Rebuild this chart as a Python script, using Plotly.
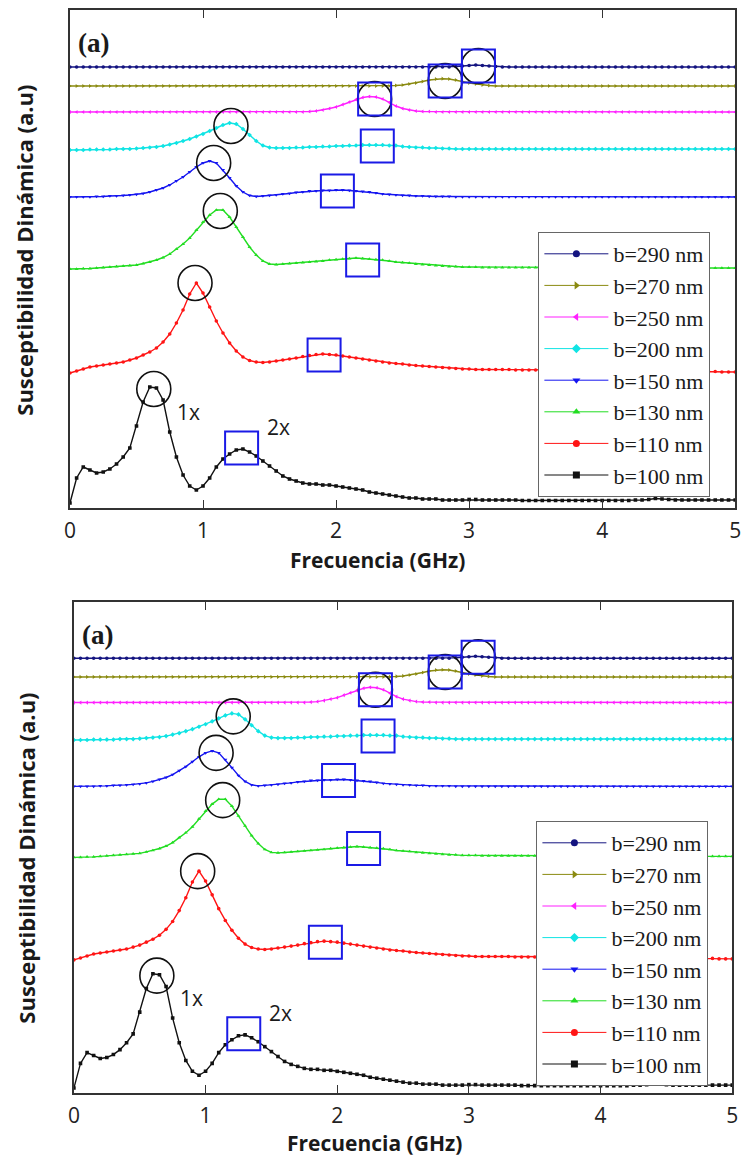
import plotly.graph_objects as go

# ---------------- data ----------------
FREQ_GHZ = [round(i * 0.05, 2) for i in range(101)]   # sampling grid 0..5 GHz

LABELS = ["b=290 nm", "b=270 nm", "b=250 nm", "b=200 nm",
          "b=150 nm", "b=130 nm", "b=110 nm", "b=100 nm"]

# dynamic susceptibility (a.u., curves offset vertically as in the figure)
CHI_290 = [441, 441, 441, 441, 441, 441, 441, 441, 441, 441,
           441, 441, 441, 441, 441, 441, 441, 441, 441, 441,
           441, 441, 441, 441, 441, 441, 441, 441, 441, 441,
           441, 441, 441, 441, 441, 441, 441, 441, 441, 441,
           441, 441, 441, 441, 441, 441, 441, 441, 441, 441,
           441, 441, 441, 441, 441, 441, 441, 441, 441.5, 442,
           442.5, 443, 442.5, 442, 441.5, 441, 441, 441, 441, 441,
           441, 441, 441, 441, 441, 441, 441, 441, 441, 441,
           441, 441, 441, 441, 441, 441, 441, 441, 441, 441,
           441, 441, 441, 441, 441, 441, 441, 441, 441, 441,
           441]
CHI_270 = [422, 422, 422, 422, 422, 422, 422, 422, 422, 422,
           422, 422, 422, 422, 422, 422, 422, 422, 422, 422,
           422, 422, 422, 422, 422, 422, 422, 422, 422, 422,
           422, 422, 422, 422, 422, 422, 422, 422, 422, 422,
           422, 422, 422, 422, 422, 422, 422, 422, 422, 422.5,
           423, 424, 425, 426.5, 428, 429, 429.3, 429, 428, 426.5,
           425, 424, 423, 422.5, 422, 422, 422, 422, 422, 422,
           422, 422, 422, 422, 422, 422, 422, 422, 422, 422,
           422, 422, 422, 422, 422, 422, 422, 422, 422, 422,
           422, 422, 422, 422, 422, 422, 422, 422, 422, 422,
           422]
CHI_250 = [396, 396, 396, 396, 396, 396, 396, 396, 396, 396,
           396, 396, 396, 396, 396, 396, 396, 396, 396, 396,
           396, 396, 396, 396, 396, 396, 396, 396, 396, 396,
           396, 396, 396, 396, 396, 396, 396.5, 397, 398, 399.5,
           401, 403.5, 406, 408.5, 410.5, 411.5, 411, 409, 405.5, 402,
           399.5, 398, 397, 396.5, 396.5, 396, 396, 396, 396, 396,
           396, 396, 396, 396, 396, 396, 396, 396, 396, 396,
           396, 396, 396, 396, 396, 396, 396, 396, 396, 396,
           396, 396, 396, 396, 396, 396, 396, 396, 396, 396,
           396, 396, 396, 396, 396, 396, 396, 396, 396, 396,
           396]
CHI_200 = [358, 358, 358, 358.5, 358.5, 358.5, 358.5, 359, 359, 359,
           359.5, 360, 360.5, 361, 362, 363.5, 365, 367, 369, 371.5,
           374, 377, 380, 383, 385, 384, 379, 373, 367, 362.5,
           360.5, 360, 360, 360, 360.5, 360.5, 361, 361, 361.5, 361.5,
           362, 362, 362.5, 362.5, 363, 363, 363, 363, 362.5, 362.5,
           361.5, 361, 360.5, 360.5, 360, 360, 359.5, 359.5, 359, 359,
           359, 359, 359, 359, 359, 359, 359, 359, 359, 359,
           359, 359, 359, 359, 359, 359, 359, 359, 359, 359,
           359, 359, 359, 359, 359, 359, 359, 359, 359, 359,
           359, 359, 359, 359, 359, 359, 359, 359, 359, 359,
           359]
CHI_150 = [311, 311, 311, 311, 311.5, 311.5, 312, 312, 312.5, 313,
           313.5, 314.5, 316, 318, 320, 323, 327, 331, 336, 341,
           345, 347, 345, 338, 330, 322, 316, 312.5, 311.5, 312,
           312.5, 313, 314, 314.5, 315.5, 316, 317, 317, 317.5, 317.5,
           318, 318, 317.5, 317, 316.5, 316, 315, 314, 313.5, 313,
           312.5, 312.5, 312, 312, 311.5, 311.5, 311.5, 311.5, 311, 311,
           311, 311, 311, 311, 311, 311, 311, 311, 311, 311,
           311, 311, 311, 311, 311, 311, 311, 311, 311, 311,
           311, 311, 311, 311, 311, 311, 311, 311, 311, 311,
           311, 311, 311, 311, 311, 311, 311, 311, 311, 311,
           311]
CHI_130 = [239, 239, 239.5, 239.5, 240, 240.5, 241, 241.5, 242, 242.5,
           243, 244.5, 246, 248, 250.5, 254, 259, 264, 270, 278,
           286, 293, 298, 298, 291, 281, 271, 261, 253, 247,
           244, 243.5, 244, 244.5, 245, 245.5, 246, 246.5, 247, 248,
           248.5, 249, 249.5, 250, 249.5, 249, 248.5, 248, 247, 246,
           245.5, 245, 244, 243.5, 243, 242.5, 242, 241.5, 241.5, 241,
           241, 241, 240.5, 240.5, 240.5, 240.5, 240.5, 240.5, 240.5, 240.5,
           240.5, 240.5, 240.5, 240.5, 240.5, 240.5, 240.5, 240.5, 240.5, 240.5,
           240, 240, 240, 240, 240, 240, 240, 240, 240, 240,
           240, 240, 240, 240, 240, 240, 240, 240, 240, 240,
           240]
CHI_110 = [135, 137, 139, 141, 142, 143, 144, 145, 146, 148,
           150, 153, 156, 160, 166, 174, 185, 198, 214, 225,
           215, 201, 187, 175, 165, 157, 151, 147.5, 146, 145.5,
           146, 147, 148, 149, 150, 151.5, 152.5, 153.5, 154, 153.5,
           153, 152, 151, 150, 149, 148, 147, 146, 145, 144.5,
           144, 143, 142.5, 142, 141.5, 141, 140.5, 140, 139.5, 139,
           139, 138.5, 138.5, 138.5, 138.5, 138.5, 138.5, 138, 138, 138,
           138, 138, 138, 138, 138, 138, 138, 138, 138, 138,
           137.5, 137.5, 137.5, 137.5, 137.5, 137, 137, 137, 137, 137,
           137, 137, 137, 136.5, 136.5, 136.5, 136.5, 136.5, 136, 136,
           136]
CHI_100 = [5, 30, 41, 38, 35, 36, 39, 44, 51, 60,
           82, 106, 121, 120, 108, 76, 51, 33, 22, 18,
           22, 30, 41, 49, 54, 58, 59, 56, 52, 47,
           42, 37, 32, 29, 27, 25, 24, 24, 23, 23,
           22, 21, 20, 19, 18, 16, 15, 14, 13, 12,
           11, 10, 10, 9, 9, 9, 8, 8, 8, 8,
           8.5, 8.5, 8, 8, 8, 8, 8, 8, 7.5, 7.5,
           7.5, 7.5, 7.5, 7.5, 7.5, 7.5, 7.5, 7.5, 7.5, 7.5,
           7.5, 7.5, 7.5, 7.5, 7.5, 8, 8, 8.5, 9.5, 9,
           8.5, 8, 8, 8, 8, 8, 8, 8, 8, 8,
           8]

SERIES = [CHI_290, CHI_270, CHI_250, CHI_200, CHI_150, CHI_130, CHI_110, CHI_100]

# marked modes: 1x peak (circle) and 2x peak (square), (GHz, a.u.)
PEAK_1X_F = [3.07, 2.82, 2.29, 1.21, 1.08, 1.13, 0.94, 0.63]
PEAK_1X_V = [442, 427, 409, 382, 345, 297, 225, 119]
PEAK_2X_F = [3.07, 2.82, 2.29, 2.31, 2.01, 2.20, 1.91, 1.29]
PEAK_2X_V = [442, 427, 409, 362, 317, 248, 153, 60]

# ---------------- styles ----------------
COLORS = ["#141480", "#8a8a10", "#ff20ff", "#10e4e4",
          "#1515f0", "#22dd22", "#ff1515", "#111111"]
SYMBOLS = ["circle", "triangle-right", "triangle-left", "diamond",
           "triangle-down", "triangle-up", "circle", "square"]

W, H = 753, 1157


def px(x):
    return x / W


def py(y):
    return 1 - y / H


PANELS = [
    dict(xa="x", ya="y", lg="legend", dom_x=(65, 741), dom_y=(10, 508),
         ytitle=(18, 250), xtitle=(378, 560), tag=(89, 43), legpos=(541, 232)),
    dict(xa="x2", ya="y2", lg="legend2", dom_x=(69, 738), dom_y=(602, 1093),
         ytitle=(20, 858), xtitle=(374, 1143), tag=(93, 635), legpos=(539, 821)),
]

fig = go.Figure()
shapes = []
annotations = []

for p in PANELS:
    for lab, vals, col, sym in zip(LABELS, SERIES, COLORS, SYMBOLS):
        fig.add_trace(go.Scatter(
            x=FREQ_GHZ, y=vals, mode="lines+markers", name=lab,
            line=dict(color=col, width=1.4),
            marker=dict(symbol=sym, size=3.6, color=col, line=dict(width=0)),
            xaxis=p["xa"], yaxis=p["ya"], showlegend=False, hoverinfo="skip"))
        # legend entry with a larger symbol
        fig.add_trace(go.Scatter(
            x=[None], y=[None], mode="lines+markers", name=lab,
            line=dict(color=col, width=1),
            marker=dict(symbol=sym, size=7, color=col),
            xaxis=p["xa"], yaxis=p["ya"], legend=p["lg"], showlegend=True))

    for f, v in zip(PEAK_1X_F, PEAK_1X_V):
        shapes.append(dict(type="circle", xref=p["xa"], yref=p["ya"],
                           xsizemode="pixel", ysizemode="pixel",
                           xanchor=f, yanchor=v, x0=-17, x1=17, y0=-17.5, y1=17.5,
                           line=dict(color="#111111", width=1.6), layer="above"))
    for f, v in zip(PEAK_2X_F, PEAK_2X_V):
        shapes.append(dict(type="rect", xref=p["xa"], yref=p["ya"],
                           xsizemode="pixel", ysizemode="pixel",
                           xanchor=f, yanchor=v, x0=-16.5, x1=16.5, y0=-16.5, y1=16.5,
                           line=dict(color="#1a1ae6", width=2), layer="above"))

    annotations += [
        dict(text="Susceptibilidad Dinámica (a.u)", textangle=-90,
             x=px(p["ytitle"][0]), y=py(p["ytitle"][1]), xref="paper", yref="paper",
             showarrow=False, xanchor="center", yanchor="middle",
             font=dict(family="Open Sans", size=22, color="#1a1a1a", weight="bold")),
        dict(text="Frecuencia (GHz)",
             x=px(p["xtitle"][0]), y=py(p["xtitle"][1]), xref="paper", yref="paper",
             showarrow=False, xanchor="center", yanchor="middle",
             font=dict(family="Open Sans", size=21, color="#1a1a1a", weight="bold")),
        dict(text="(a)", x=px(p["tag"][0]), y=py(p["tag"][1]), xref="paper", yref="paper",
             showarrow=False, xanchor="center", yanchor="middle",
             font=dict(family="Liberation Serif", size=27, color="#1a1a1a", weight="bold")),
        dict(text="1x", x=0.89, y=96, xref=p["xa"], yref=p["ya"], showarrow=False,
             xanchor="center", yanchor="middle",
             font=dict(family="Open Sans", size=21, color="#1a1a1a")),
        dict(text="2x", x=1.57, y=81, xref=p["xa"], yref=p["ya"], showarrow=False,
             xanchor="center", yanchor="middle",
             font=dict(family="Open Sans", size=21, color="#1a1a1a")),
    ]

axis_common = dict(showline=True, linecolor="#333333", linewidth=1.5, mirror=True,
                   showgrid=False, zeroline=False)
xaxis_common = dict(axis_common, range=[0, 5], tickvals=[0, 1, 2, 3, 4, 5],
                    ticks="inside", ticklen=8, tickwidth=1.3, tickcolor="#333333",
                    mirror="ticks", ticklabelstandoff=3,
                    tickfont=dict(family="Open Sans", size=21, color="#222222"))
yaxis_common = dict(axis_common, range=[0, 498], showticklabels=False, ticks="")

legend_common = dict(xanchor="left", yanchor="top", bgcolor="white",
                     bordercolor="#666666", borderwidth=1, itemwidth=64,
                     font=dict(family="Liberation Serif", size=22, color="#1a1a1a"),
                     tracegroupgap=0)

fig.update_layout(
    width=W, height=H, margin=dict(l=0, r=0, t=0, b=0),
    paper_bgcolor="white", plot_bgcolor="white",
    xaxis=dict(xaxis_common, domain=[px(65), px(741)], anchor="y"),
    yaxis=dict(yaxis_common, domain=[py(508), py(10)], anchor="x"),
    xaxis2=dict(xaxis_common, domain=[px(69), px(738)], anchor="y2"),
    yaxis2=dict(yaxis_common, domain=[py(1093), py(602)], anchor="x2"),
    legend=dict(legend_common, x=px(PANELS[0]["legpos"][0]), y=py(PANELS[0]["legpos"][1])),
    legend2=dict(legend_common, x=px(PANELS[1]["legpos"][0]), y=py(PANELS[1]["legpos"][1])),
    shapes=shapes, annotations=annotations, showlegend=True,
)

fig.write_html("out.html")
